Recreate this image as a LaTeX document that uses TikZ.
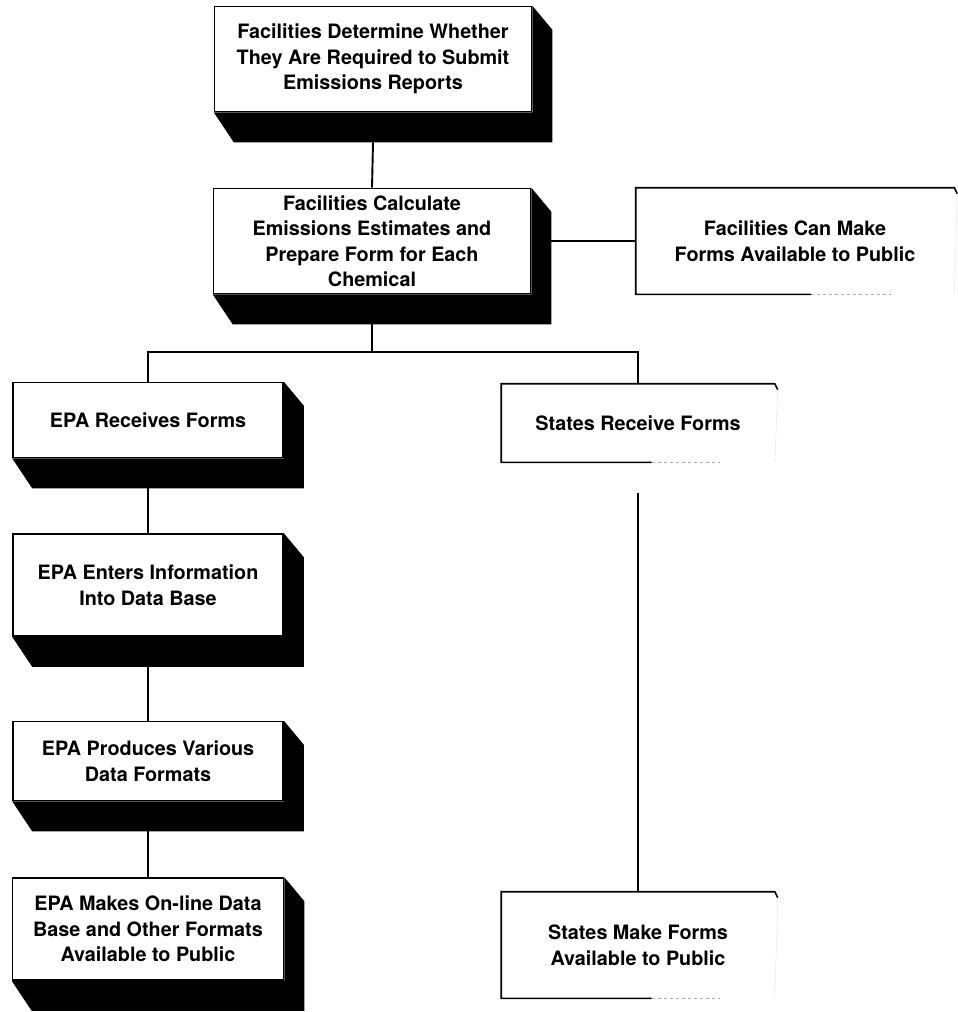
\documentclass[tikz,border=0pt]{standalone}
\usepackage{fontspec}
\setmainfont{TeX Gyre Heros}
\usetikzlibrary{positioning}
\usetikzlibrary{calc}

\tikzset{
  stage/.style 2 args={draw, line width=1.6pt, fill=white, align=center, inner sep=0pt,
    minimum width=#1pt, minimum height=#2pt, font=\bfseries\fontsize{19.8}{25.5}\selectfont},
  faded/.style 2 args={stage={#1}{#2}, draw=none},
  link/.style={line width=1.9pt},
}
% black extrusion below and right of a box
\newcommand{\extrude}[1]{%
  \fill (#1.north east) -- ++(20,24) -- ([shift={(20pt,-30pt)}]#1.south east)
    -- ([shift={(20pt,-30pt)}]#1.south west) -- (#1.south west) -- (#1.south east) -- cycle;}
% box whose shadow has faded out in print
\newcommand{\openframe}[1]{%
  \draw[line width=1.6pt] ($(#1.south west)!0.55!(#1.south east)$) -- (#1.south west)
    -- (#1.north west) -- (#1.north east) -- ++(3,6);
  \draw[gray!60, dashed, line width=0.8pt] ($(#1.south west)!0.55!(#1.south east)$)
    -- ($(#1.south west)!0.8!(#1.south east)$);
  \draw[gray!40, densely dotted, line width=0.6pt] ([shift={(3pt,-6pt)}]#1.north east) -- (#1.south east);}

\begin{document}
\begin{tikzpicture}[x=1pt, y=-1pt]
  \useasboundingbox (0,0) rectangle (958,1012);
  % left column and top
  \node[stage={317}{105}] (det)   at (373,59)  {Facilities Determine Whether\\They Are Required to Submit\\Emissions Reports};
  \node[stage={317}{105}] (calc)  at (372,241) {Facilities Calculate\\Emissions Estimates and\\Prepare Form for Each\\Chemical};
  \node[stage={270}{75}]  (recv)  at (148,420) {EPA Receives Forms};
  \node[stage={270}{102}] (enter) at (148,585) {EPA Enters Information\\Into Data Base};
  \node[stage={270}{79}]  (prod)  at (148,761) {EPA Produces Various\\Data Formats};
  \node[stage={271}{102}] (make)  at (148,929) {EPA Makes On-line Data\\Base and Other Formats\\Available to Public};
  % right column
  \node[faded={317}{105}] (fcan)  at (795,241) {Facilities Can Make\\Forms Available to Public};
  \node[faded={272}{77}]  (srecv) at (638,423) {States Receive Forms};
  \node[faded={272}{105}] (smake) at (638,945) {States Make Forms\\Available to Public};
  \coordinate (bus) at (372,352);

  \foreach \b in {det, calc, recv, enter, prod, make} {\extrude{\b}}
  \foreach \b in {fcan, srecv, smake} {\openframe{\b}}

  \draw[link] ([yshift=-30pt]det.south) -- (calc.north);
  \draw[link] ([xshift=20pt]calc.east) -- (fcan.west);
  \draw[link] ([yshift=-30pt]calc.south) -- (bus);
  \draw[link] (recv.north) |- (bus) -| (srecv.north);
  \draw[link] ([yshift=-30pt]recv.south) -- (enter.north);
  \draw[link] ([yshift=-30pt]enter.south) -- (prod.north);
  \draw[link] ([yshift=-30pt]prod.south) -- (make.north);
  \draw[link, line width=2.6pt] ([yshift=-31pt]srecv.south) -- (smake.north);
\end{tikzpicture}
\end{document}
